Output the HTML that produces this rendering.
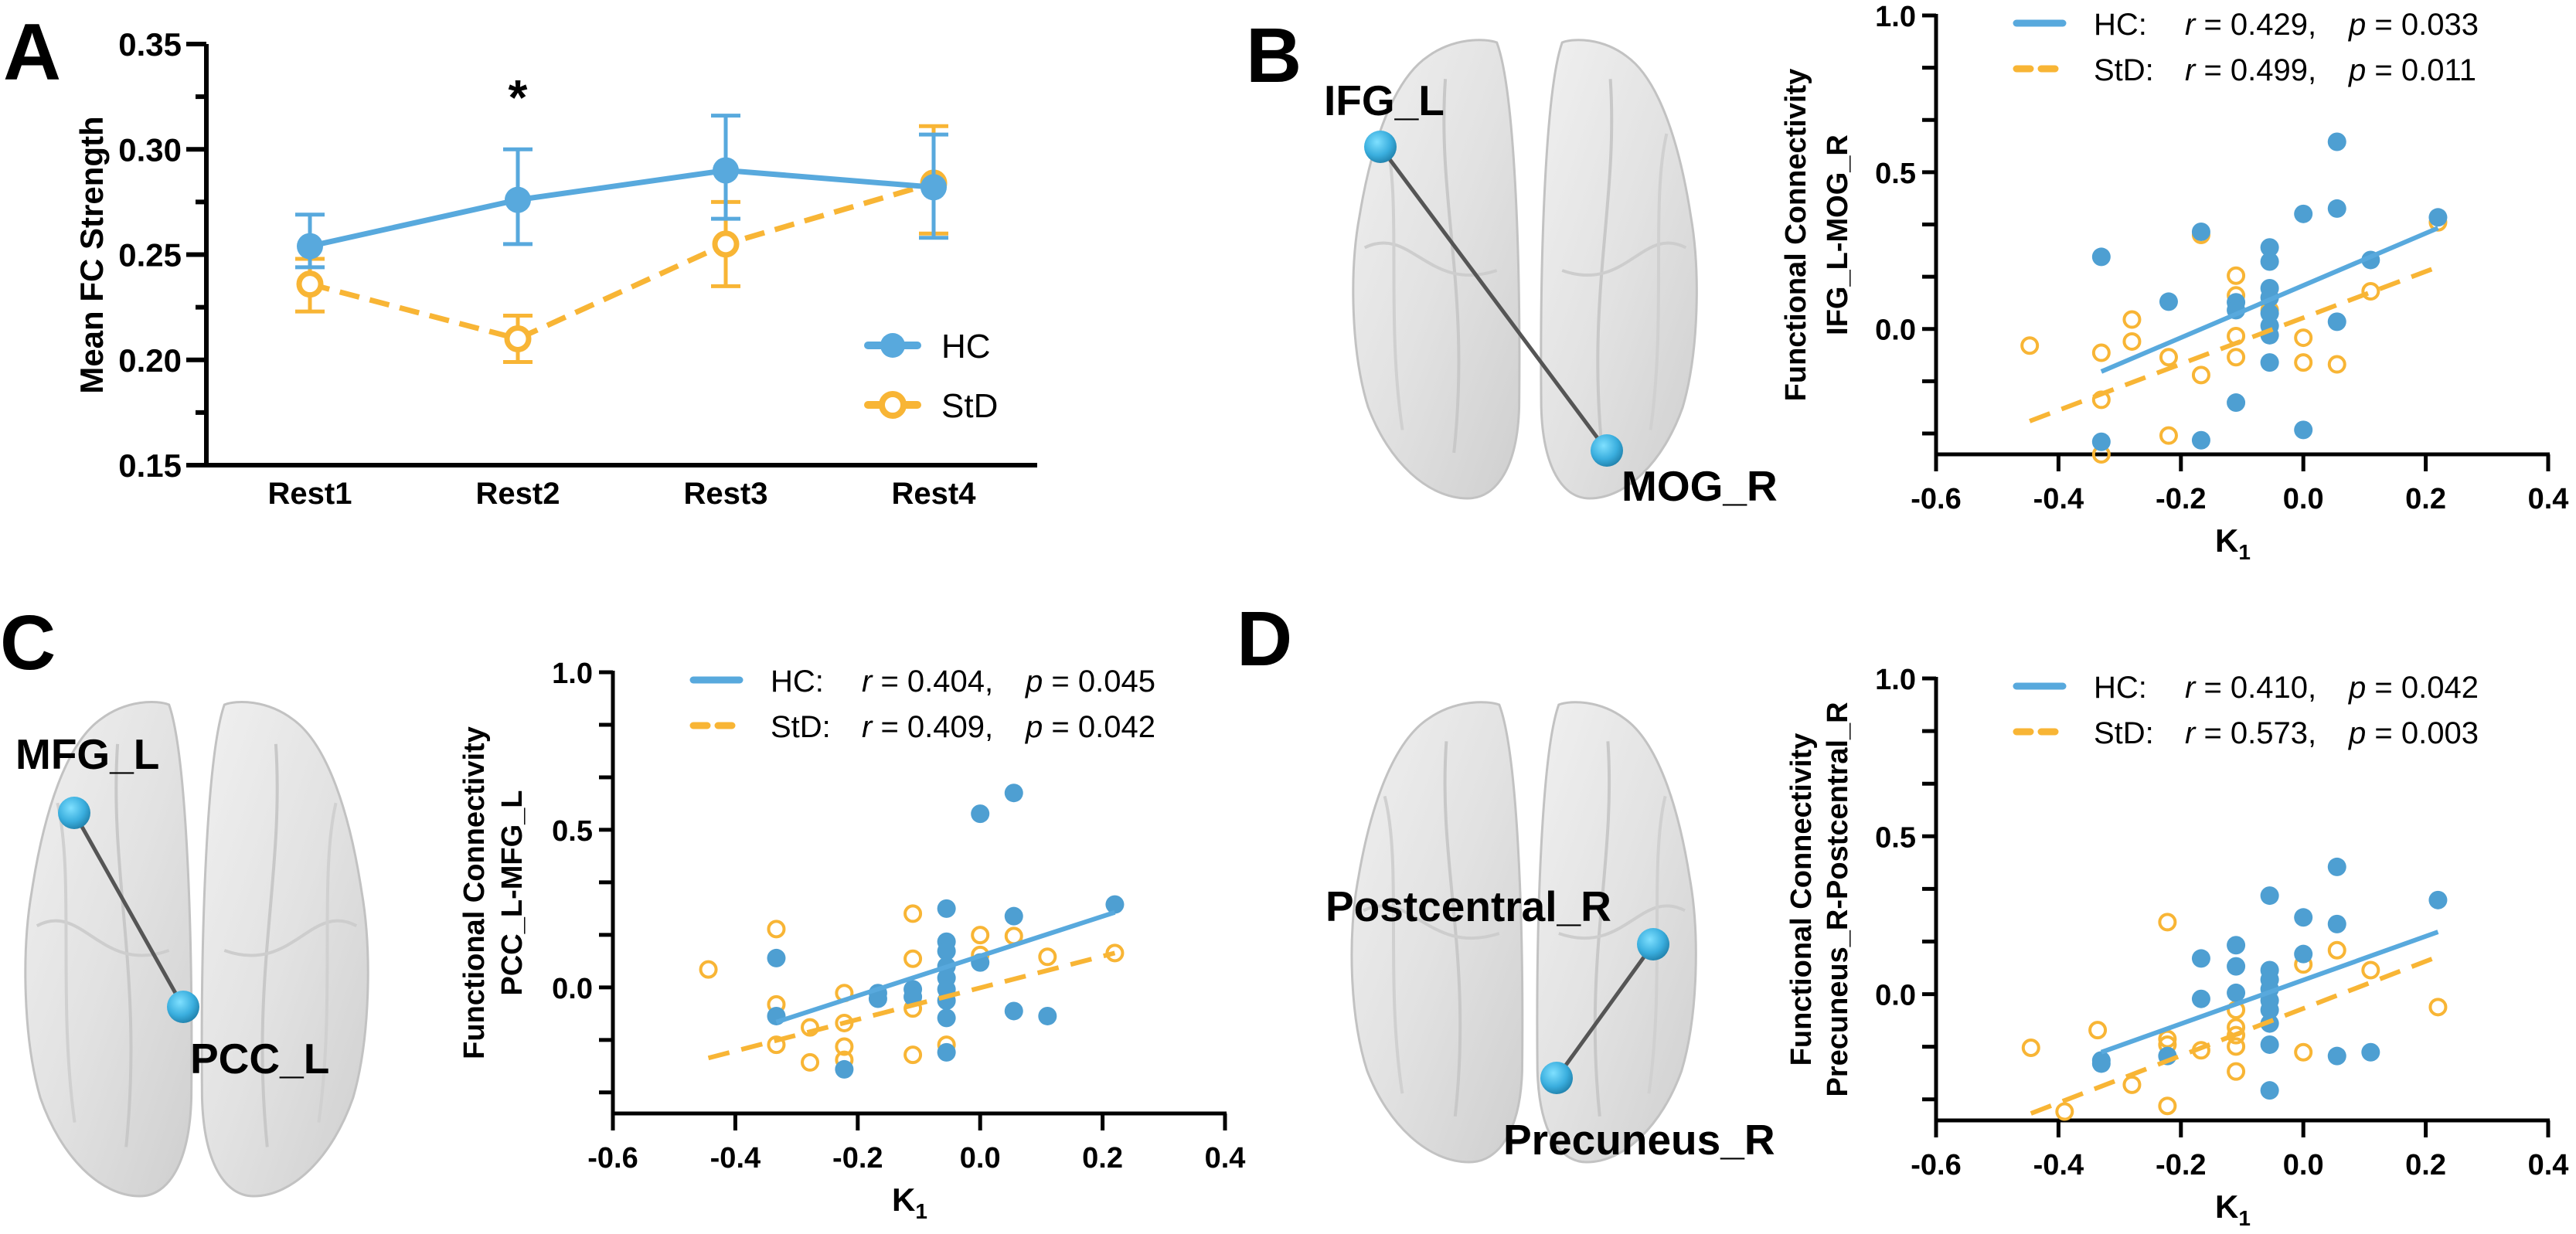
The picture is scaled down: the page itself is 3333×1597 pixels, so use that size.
<!DOCTYPE html>
<html><head><meta charset="utf-8">
<style>
html,body{margin:0;padding:0;background:#fff;}
svg{display:block;font-family:"Liberation Sans",Arial,sans-serif;}
</style></head>
<body>
<svg id="fig" width="3333" height="1597" viewBox="0 0 3333 1597" xmlns="http://www.w3.org/2000/svg">
<defs>
  <linearGradient id="brainGrad" x1="0" y1="0" x2="1" y2="1">
    <stop offset="0" stop-color="#f0f0f0"/>
    <stop offset="0.5" stop-color="#e2e2e2"/>
    <stop offset="1" stop-color="#cfcfcf"/>
  </linearGradient>
  <radialGradient id="nodeGrad" cx="0.4" cy="0.35" r="0.7">
    <stop offset="0" stop-color="#7fe0ff"/>
    <stop offset="0.6" stop-color="#3aaede"/>
    <stop offset="1" stop-color="#1f7ea8"/>
  </radialGradient>
</defs>
<g id="root"></g>
</svg>
<script>
// ---------- Panel A data ----------
const categories = ['Rest1','Rest2','Rest3','Rest4'];
const hcMean = [0.254, 0.276, 0.290, 0.282];
const hcLow  = [0.244, 0.255, 0.267, 0.258];
const hcHigh = [0.269, 0.300, 0.316, 0.307];
const stdMean = [0.236, 0.210, 0.255, 0.284];
const stdLow  = [0.223, 0.199, 0.235, 0.260];
const stdHigh = [0.248, 0.221, 0.275, 0.311];
const aTicks = [0.15, 0.20, 0.25, 0.30, 0.35];
const aTickLabels = ['0.15','0.20','0.25','0.30','0.35'];

// ---------- Scatter shared ticks ----------
const xTicks = [-0.6,-0.4,-0.2,0.0,0.2,0.4];
const xTickLabels = ['-0.6','-0.4','-0.2','0.0','0.2','0.4'];
const yTicksMajor = [0.0, 0.5, 1.0];
const yTickLabels = ['0.0','0.5','1.0'];

// ---------- Panel B data ----------
const bHcX = [-0.33,-0.22,-0.167,-0.33,-0.167,-0.11,-0.11,-0.11,-0.055,-0.055,-0.055,-0.055,-0.055,-0.055,-0.055,-0.055,0.0,0.0,0.055,0.055,0.055,0.11,0.22];
const bHcY = [0.23,0.087,0.31,-0.36,-0.355,-0.235,0.085,0.06,0.26,0.215,0.13,0.10,0.05,0.01,-0.02,-0.107,0.367,-0.322,0.597,0.384,0.023,0.22,0.356];
const bStdX = [-0.447,-0.33,-0.33,-0.33,-0.28,-0.28,-0.22,-0.22,-0.167,-0.167,-0.11,-0.11,-0.11,-0.11,-0.055,0.0,0.0,0.055,0.11,0.22];
const bStdY = [-0.053,-0.076,-0.226,-0.40,0.03,-0.04,-0.09,-0.34,0.30,-0.147,0.17,0.107,-0.023,-0.09,0.06,-0.028,-0.107,-0.113,0.12,0.34];
const bHcFit = [-0.33,-0.136,0.22,0.322];
const bStdFit = [-0.447,-0.294,0.22,0.198];
const bStats = ['r = 0.429,','p = 0.033','r = 0.499,','p = 0.011'];

// ---------- Panel C data ----------
const cHcX = [-0.333,-0.333,-0.222,-0.167,-0.167,-0.11,-0.11,-0.055,-0.055,-0.055,-0.055,-0.055,-0.055,-0.055,-0.055,-0.055,0.0,0.0,0.055,0.055,0.055,0.11,0.22];
const cHcY = [0.093,-0.091,-0.26,-0.018,-0.036,-0.006,-0.03,0.25,0.145,0.115,0.067,0.03,-0.006,-0.042,-0.097,-0.206,0.551,0.079,0.617,0.226,-0.075,-0.091,0.263];
const cStdX = [-0.444,-0.333,-0.333,-0.333,-0.278,-0.278,-0.222,-0.222,-0.222,-0.222,-0.11,-0.11,-0.11,-0.11,-0.055,0.0,0.0,0.055,0.11,0.22];
const cStdY = [0.057,0.185,-0.054,-0.182,-0.127,-0.238,-0.018,-0.113,-0.188,-0.23,0.234,0.091,-0.067,-0.214,-0.182,0.166,0.103,0.163,0.097,0.109];
const cHcFit = [-0.333,-0.11,0.22,0.238];
const cStdFit = [-0.444,-0.224,0.22,0.109];
const cStats = ['r = 0.404,','p = 0.045','r = 0.409,','p = 0.042'];

// ---------- Panel D data ----------
const dHcX = [-0.33,-0.33,-0.222,-0.167,-0.167,-0.11,-0.11,-0.11,-0.055,-0.055,-0.055,-0.055,-0.055,-0.055,-0.055,-0.055,-0.055,0.0,0.0,0.055,0.055,0.055,0.11,0.22];
const dHcY = [-0.22,-0.21,-0.196,0.113,-0.015,0.155,0.088,0.004,0.312,0.076,0.046,0.016,-0.02,-0.05,-0.093,-0.16,-0.305,0.243,0.127,0.403,0.222,-0.196,-0.184,0.298];
const dStdX = [-0.445,-0.39,-0.336,-0.28,-0.222,-0.222,-0.222,-0.222,-0.167,-0.11,-0.11,-0.11,-0.11,-0.11,0.0,0.0,0.055,0.11,0.22];
const dStdY = [-0.17,-0.372,-0.114,-0.287,0.228,-0.142,-0.16,-0.354,-0.178,-0.05,-0.105,-0.13,-0.166,-0.245,0.094,-0.184,0.139,0.076,-0.041];
const dHcFit = [-0.33,-0.184,0.22,0.197];
const dStdFit = [-0.445,-0.378,0.22,0.119];
const dStats = ['r = 0.410,','p = 0.042','r = 0.573,','p = 0.003'];

const HC_COL = '#58a9dd', HC_DOT = '#4e9fd2', STD_COL = '#f8b535';
const NS = 'http://www.w3.org/2000/svg';
const root = document.getElementById('root');

function mk(tag, attrs, parent, text){
  const e = document.createElementNS(NS, tag);
  for (const k in attrs) e.setAttribute(k, attrs[k]);
  if (text !== undefined) e.textContent = text;
  (parent || root).appendChild(e);
  return e;
}

// ---------- Panel A ----------
const gA = mk('g', {});


const aX0 = 267, aX1 = 1342, aYtop = 57, aYbot = 602;
const aCatX0 = 401, aCatStep = 269;
function ayScale(v){ return aYbot - (v - 0.15) / 0.20 * (aYbot - aYtop); }
function axScale(i){ return aCatX0 + i * aCatStep; }

let t = mk('text', {x: 4, y: 103, 'font-size': 104, 'font-weight': 'bold'}, gA, 'A');



let ax = mk('g', {}, gA);


mk('line', {x1: aX0, y1: aYtop, x2: aX0, y2: aYbot + 3, stroke: '#000', 'stroke-width': 6}, ax);
for (let i = 0; i < aTicks.length; i++) {
  const y = ayScale(aTicks[i]);
  mk('line', {x1: aX0 - 26, y1: y, x2: aX0, y2: y, stroke: '#000', 'stroke-width': 6}, ax);
  const lb = mk('text', {x: aX0 - 32, y: y + 15, 'font-size': 42, 'font-weight': 'bold', 'text-anchor': 'end'}, ax, aTickLabels[i]);
  
  
  if (i < aTicks.length - 1) {
    const ym = ayScale(aTicks[i] + 0.025);
    mk('line', {x1: aX0 - 14, y1: ym, x2: aX0, y2: ym, stroke: '#000', 'stroke-width': 6}, ax);
  }
}
let xa = mk('line', {x1: aX0 - 3, y1: aYbot, x2: aX1, y2: aYbot, stroke: '#000', 'stroke-width': 6}, gA);


for (let i = 0; i < categories.length; i++) {
  const lb = mk('text', {x: axScale(i), y: 652, 'font-size': 40, 'font-weight': 'bold', 'text-anchor': 'middle'}, gA, categories[i]);
  
  
}
t = mk('text', {x: 0, y: 0, 'font-size': 42, 'font-weight': 'bold', 'text-anchor': 'middle', transform: 'translate(133,330) rotate(-90)'}, gA, 'Mean FC Strength');


t = mk('text', {x: axScale(1), y: 148, 'font-size': 64, 'font-weight': 'bold', 'text-anchor': 'middle'}, gA, '*');



// StD series
let gs = mk('g', {}, gA);


let pts = stdMean.map((v, i) => axScale(i) + ',' + ayScale(v)).join(' ');
mk('polyline', {points: pts, fill: 'none', stroke: STD_COL, 'stroke-width': 7, 'stroke-dasharray': '26 14'}, gs);
for (let i = 0; i < stdMean.length; i++) {
  const x = axScale(i);
  const eb = mk('g', {}, gs);
  
  
  mk('line', {x1: x, y1: ayScale(stdLow[i]), x2: x, y2: ayScale(stdHigh[i]), stroke: STD_COL, 'stroke-width': 5}, eb);
  mk('line', {x1: x - 19, y1: ayScale(stdLow[i]), x2: x + 19, y2: ayScale(stdLow[i]), stroke: STD_COL, 'stroke-width': 5}, eb);
  mk('line', {x1: x - 19, y1: ayScale(stdHigh[i]), x2: x + 19, y2: ayScale(stdHigh[i]), stroke: STD_COL, 'stroke-width': 5}, eb);
  const m = mk('circle', {cx: x, cy: ayScale(stdMean[i]), r: 14, fill: '#fff', stroke: STD_COL, 'stroke-width': 7}, gs);
  
  
}
// HC series
let gh = mk('g', {}, gA);


pts = hcMean.map((v, i) => axScale(i) + ',' + ayScale(v)).join(' ');
mk('polyline', {points: pts, fill: 'none', stroke: HC_COL, 'stroke-width': 7}, gh);
for (let i = 0; i < hcMean.length; i++) {
  const x = axScale(i);
  const eb = mk('g', {}, gh);
  
  
  mk('line', {x1: x, y1: ayScale(hcLow[i]), x2: x, y2: ayScale(hcHigh[i]), stroke: HC_COL, 'stroke-width': 5}, eb);
  mk('line', {x1: x - 19, y1: ayScale(hcLow[i]), x2: x + 19, y2: ayScale(hcLow[i]), stroke: HC_COL, 'stroke-width': 5}, eb);
  mk('line', {x1: x - 19, y1: ayScale(hcHigh[i]), x2: x + 19, y2: ayScale(hcHigh[i]), stroke: HC_COL, 'stroke-width': 5}, eb);
  const m = mk('circle', {cx: x, cy: ayScale(hcMean[i]), r: 17, fill: HC_COL}, gh);
  
  
}
// Legend A
let lg = mk('g', {}, gA);


let le = mk('g', {}, lg);


mk('line', {x1: 1123, y1: 447, x2: 1187, y2: 447, stroke: HC_COL, 'stroke-width': 10, 'stroke-linecap': 'round'}, le);
mk('circle', {cx: 1155, cy: 447, r: 16, fill: HC_COL}, le);
mk('text', {x: 1218, y: 463, 'font-size': 44}, le, 'HC');
le = mk('g', {}, lg);


mk('line', {x1: 1123, y1: 524, x2: 1187, y2: 524, stroke: STD_COL, 'stroke-width': 10, 'stroke-linecap': 'round'}, le);
mk('circle', {cx: 1155, cy: 524, r: 14, fill: '#fff', stroke: STD_COL, 'stroke-width': 8}, le);
mk('text', {x: 1218, y: 540, 'font-size': 44}, le, 'StD');

// ---------- Scatter panel builder ----------
function scatterPanel(name, x0, yTop, yBot, hcX, hcY, stdX, stdY, hcFit, stdFit, stats, t1x, t2x, title2) {
  const g = mk('g', {});
  
  
  const W = 792;
  const sx = v => x0 + (v + 0.6) / 1.0 * W;
  const sy = v => yBot - (v + 0.4) / 1.4 * (yBot - yTop);
  const ya = mk('g', {}, g);
  
  
  mk('line', {x1: x0, y1: yTop - 2, x2: x0, y2: yBot + 2, stroke: '#000', 'stroke-width': 5}, ya);
  for (let k = -2; k <= 6; k++) {
    const v = k / 6;
    const y = sy(v);
    mk('line', {x1: x0 - 18, y1: y, x2: x0, y2: y, stroke: '#000', 'stroke-width': 5}, ya);
  }
  for (let i = 0; i < yTicksMajor.length; i++) {
    const lb = mk('text', {x: x0 - 26, y: sy(yTicksMajor[i]) + 14, 'font-size': 38, 'font-weight': 'bold', 'text-anchor': 'end'}, ya, yTickLabels[i]);
    
    
  }
  const xa = mk('g', {}, g);
  
  
  mk('line', {x1: x0 - 2, y1: yBot, x2: x0 + W + 2, y2: yBot, stroke: '#000', 'stroke-width': 5}, xa);
  for (let i = 0; i < xTicks.length; i++) {
    const x = sx(xTicks[i]);
    mk('line', {x1: x, y1: yBot, x2: x, y2: yBot + 22, stroke: '#000', 'stroke-width': 5}, xa);
    const lb = mk('text', {x: x, y: yBot + 70, 'font-size': 38, 'font-weight': 'bold', 'text-anchor': 'middle'}, xa, xTickLabels[i]);
    
    
  }
  const xt = mk('text', {x: sx(-0.1) - 12, y: yBot + 126, 'font-size': 42, 'font-weight': 'bold', 'text-anchor': 'middle'}, g);
  
  
  xt.textContent = 'K';
  mk('tspan', {'font-size': 28, dy: 10}, xt, '1');
  const cy = (yTop + yBot) / 2;
  const y1 = mk('text', {x: 0, y: 0, 'font-size': 38, 'font-weight': 'bold', 'text-anchor': 'middle', transform: 'translate(' + (t1x + 13) + ',' + cy + ') rotate(-90)'}, g, 'Functional Connectivity');
  
  
  const y2 = mk('text', {x: 0, y: 0, 'font-size': 38, 'font-weight': 'bold', 'text-anchor': 'middle', transform: 'translate(' + (t2x + 13) + ',' + cy + ') rotate(-90)'}, g, title2);
  
  
  const gsd = mk('g', {}, g);
  
  
  for (let i = 0; i < stdX.length; i++) {
    const c = mk('circle', {cx: sx(stdX[i]), cy: sy(stdY[i]), r: 10, fill: 'none', stroke: STD_COL, 'stroke-width': 4}, gsd);
    
    
  }
  const ghc = mk('g', {}, g);
  
  
  for (let i = 0; i < hcX.length; i++) {
    const c = mk('circle', {cx: sx(hcX[i]), cy: sy(hcY[i]), r: 12, fill: HC_DOT}, ghc);
    
    
  }
  const fs = mk('line', {x1: sx(stdFit[0]), y1: sy(stdFit[1]), x2: sx(stdFit[2]), y2: sy(stdFit[3]), stroke: STD_COL, 'stroke-width': 6, 'stroke-dasharray': '28 16'}, g);
  
  
  const fh = mk('line', {x1: sx(hcFit[0]), y1: sy(hcFit[1]), x2: sx(hcFit[2]), y2: sy(hcFit[3]), stroke: HC_COL, 'stroke-width': 6}, g);
  
  
  const lg = mk('g', {}, g);
  
  
  const rows = [[yTop + 10, 'HC:', HC_COL, null, stats[0], stats[1]], [yTop + 69, 'StD:', STD_COL, '20 10', stats[2], stats[3]]];
  rows.forEach((r, idx) => {
    const e = mk('g', {}, lg);
    
    
    const la = {x1: x0 + 104, y1: r[0], x2: x0 + 164, y2: r[0], stroke: r[2], 'stroke-width': 9, 'stroke-linecap': 'round'};
    if (r[3]) la['stroke-dasharray'] = '18 14';
    mk('line', la, e);
    mk('text', {x: x0 + 204, y: r[0] + 15, 'font-size': 40}, e, r[1]);
    const rt = mk('text', {x: x0 + 322, y: r[0] + 15, 'font-size': 40}, e);
    mk('tspan', {'font-style': 'italic'}, rt, r[4].charAt(0));
    mk('tspan', {}, rt, r[4].slice(1));
    const pt = mk('text', {x: x0 + 534, y: r[0] + 15, 'font-size': 40}, e);
    mk('tspan', {'font-style': 'italic'}, pt, r[5].charAt(0));
    mk('tspan', {}, pt, r[5].slice(1));
  });
}

scatterPanel('panel-b-scatter', 2505, 20, 588, bHcX, bHcY, bStdX, bStdY, bHcFit, bStdFit, bStats, 2323, 2377, 'IFG_L-MOG_R');
scatterPanel('panel-c-scatter', 793, 870, 1441, cHcX, cHcY, cStdX, cStdY, cHcFit, cStdFit, cStats, 613, 662, 'PCC_L-MFG_L');
scatterPanel('panel-d-scatter', 2505, 878, 1450, dHcX, dHcY, dStdX, dStdY, dHcFit, dStdFit, dStats, 2330, 2377, 'Precuneus_R-Postcentral_R');

// ---------- Brains ----------
function hemi(x0, y0, w, h, mirror, parent) {
  const P = [[0.85,0.0],[0.95,0.10,0.99,0.45,0.98,0.80],[0.97,0.93,0.85,1.0,0.68,1.0],[0.45,1.0,0.22,0.92,0.10,0.80],[0.0,0.68,-0.01,0.50,0.05,0.38],[0.12,0.22,0.25,0.08,0.45,0.03],[0.60,-0.01,0.78,-0.01,0.85,0.0]];
  const X = u => x0 + (mirror ? 1 - u : u) * w;
  const Y = v => y0 + v * h;
  let d = 'M' + X(P[0][0]) + ',' + Y(P[0][1]);
  for (let i = 1; i < P.length; i++) {
    const p = P[i];
    d += ' C' + X(p[0]) + ',' + Y(p[1]) + ' ' + X(p[2]) + ',' + Y(p[3]) + ' ' + X(p[4]) + ',' + Y(p[5]);
  }
  d += ' Z';
  const e = mk('path', {d: d, fill: 'url(#brainGrad)', stroke: '#c2c2c2', 'stroke-width': 3}, parent);
  mk('path', {d: 'M' + X(0.55) + ',' + Y(0.08) + ' C' + X(0.5) + ',' + Y(0.35) + ' ' + X(0.7) + ',' + Y(0.55) + ' ' + X(0.6) + ',' + Y(0.9), fill: 'none', stroke: '#c8c8c8', 'stroke-width': 4}, parent);
  mk('path', {d: 'M' + X(0.08) + ',' + Y(0.45) + ' C' + X(0.35) + ',' + Y(0.4) + ' ' + X(0.45) + ',' + Y(0.55) + ' ' + X(0.85) + ',' + Y(0.5), fill: 'none', stroke: '#cdcdcd', 'stroke-width': 4}, parent);
  mk('path', {d: 'M' + X(0.2) + ',' + Y(0.2) + ' C' + X(0.3) + ',' + Y(0.35) + ' ' + X(0.2) + ',' + Y(0.6) + ' ' + X(0.3) + ',' + Y(0.85), fill: 'none', stroke: '#d0d0d0', 'stroke-width': 4}, parent);
  return e;
}
function brain(name, lx, rx, y0, lw, rw, h, n1, n2, lab1, lab2, panelLetter, letterPos) {
  const g = mk('g', {});
  
  
  hemi(lx, y0, lw, h, false, g);
  hemi(rx, y0, rw, h, true, g);
  const ln = mk('line', {x1: n1[0], y1: n1[1], x2: n2[0], y2: n2[1], stroke: '#555', 'stroke-width': 5}, g);
  
  
  [n1, n2].forEach(n => {
    const c = mk('circle', {cx: n[0], cy: n[1], r: 21, fill: 'url(#nodeGrad)'}, g);
    
    
  });
  [lab1, lab2].forEach(l => {
    const tx = mk('text', {x: l[0], y: l[1], 'font-size': 55, 'font-weight': 'bold'}, g, l[2]);
    
    
  });
  const pl = mk('text', {x: letterPos[0], y: letterPos[1], 'font-size': 100, 'font-weight': 'bold'}, g, panelLetter);
  
  
}
brain('brain-b', 1748, 1990, 55, 222, 208, 590, [1786,190], [2079,583], [1713,149,'IFG_L'], [2098,648,'MOG_R'], 'B', [1612,106]);
brain('brain-c', 30, 257, 912, 222, 222, 636, [96,1052], [237,1303], [20,995,'MFG_L'], [246,1389,'PCC_L'], 'C', [0,866]);
brain('brain-d', 1746, 1985, 912, 228, 212, 592, [2139,1222], [2014,1395], [1715,1192,'Postcentral_R'], [1945,1494,'Precuneus_R'], 'D', [1600,861]);
</script>
</body></html>
